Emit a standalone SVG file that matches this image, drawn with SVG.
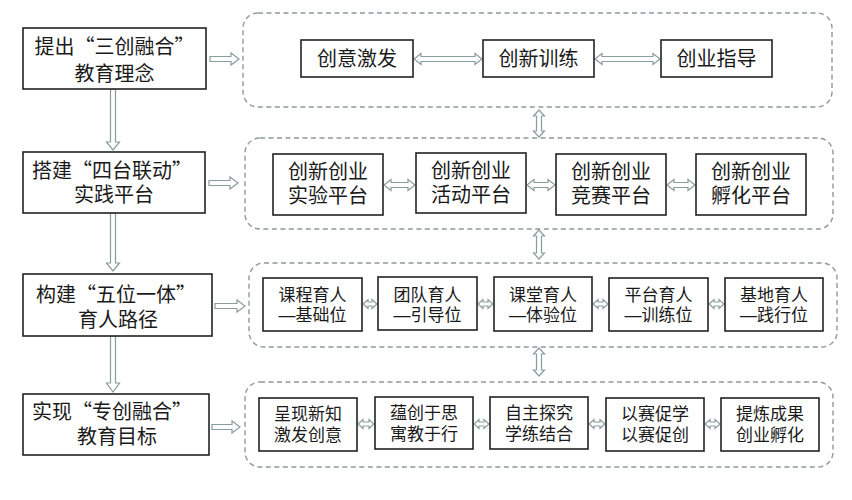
<svg xmlns="http://www.w3.org/2000/svg" width="852" height="500" viewBox="0 0 852 500" lang="zh-CN">
<style>
text{font-family:"Liberation Sans","Noto Sans CJK SC",sans-serif;fill:#1a1a1a;text-anchor:middle}
.q{font-family:"Noto Sans CJK SC",sans-serif}
.t20{font-size:20px}
.t17{font-size:17px}
.box{fill:#fff;stroke:#222;stroke-width:1.6}
.cont{fill:none;stroke:#8e9a9a;stroke-width:1.4;stroke-dasharray:5 3.5}
.arr{fill:#fff;stroke:#8a9d9d;stroke-width:1.2;stroke-linejoin:miter}
</style>
<rect width="852" height="500" fill="#fff"/>
<g id="containers">
<rect id="c1" class="cont" x="243" y="13" width="589" height="94" rx="15"/>
<rect id="c2" class="cont" x="245" y="138" width="588" height="91" rx="15"/>
<rect id="c3" class="cont" x="249" y="263" width="588" height="84" rx="15"/>
<rect id="c4" class="cont" x="245" y="382" width="588" height="85" rx="15"/>
</g>
<g id="connectors">
<path class="arr" d="M110.5 89 L115.5 89 L115.5 142 L119.5 142 L113 150 L106.5 142 L110.5 142 Z"/>
<path class="arr" d="M110.5 213 L115.5 213 L115.5 263 L119.5 263 L113 271 L106.5 263 L110.5 263 Z"/>
<path class="arr" d="M110.5 336 L115.5 336 L115.5 383 L119.5 383 L113 392 L106.5 383 L110.5 383 Z"/>
<path class="arr" d="M210 56.5 L231 56.5 L231 53 L239 59 L231 65 L231 61.5 L210 61.5 Z"/>
<path class="arr" d="M209 180.5 L230 180.5 L230 177 L238 183 L230 189 L230 185.5 L209 185.5 Z"/>
<path class="arr" d="M215 303.5 L237 303.5 L237 300 L245 306 L237 312 L237 308.5 L215 308.5 Z"/>
<path class="arr" d="M212 424.5 L232 424.5 L232 421 L240 427 L232 433 L232 429.5 L212 429.5 Z"/>
<path class="arr" d="M539 110 L544.5 116 L541.5 116 L541.5 131 L544.5 131 L539 137 L533.5 131 L536.5 131 L536.5 116 L533.5 116 Z"/>
<path class="arr" d="M539 230 L544.5 236 L541.5 236 L541.5 253 L544.5 253 L539 259 L533.5 253 L536.5 253 L536.5 236 L533.5 236 Z"/>
<path class="arr" d="M539 348 L544.5 354 L541.5 354 L541.5 370 L544.5 370 L539 376 L533.5 370 L536.5 370 L536.5 354 L533.5 354 Z"/>
<path class="arr" d="M414 59 L421 53.5 L421 56.5 L475 56.5 L475 53.5 L482 59 L475 64.5 L475 61.5 L421 61.5 L421 64.5 Z"/>
<path class="arr" d="M595 59 L602 53.5 L602 56.5 L653 56.5 L653 53.5 L660 59 L653 64.5 L653 61.5 L602 61.5 L602 64.5 Z"/>
<path class="arr" d="M384 185 L391 179.5 L391 182.5 L408 182.5 L408 179.5 L415 185 L408 190.5 L408 187.5 L391 187.5 L391 190.5 Z"/>
<path class="arr" d="M527 185 L534 179.5 L534 182.5 L548 182.5 L548 179.5 L555 185 L548 190.5 L548 187.5 L534 187.5 L534 190.5 Z"/>
<path class="arr" d="M667 185 L674 179.5 L674 182.5 L688 182.5 L688 179.5 L695 185 L688 190.5 L688 187.5 L674 187.5 L674 190.5 Z"/>
<path class="arr" d="M363 304 L368 299.5 L368 302 L372 302 L372 299.5 L377 304 L372 308.5 L372 306 L368 306 L368 308.5 Z"/>
<path class="arr" d="M478 304 L483 299.5 L483 302 L488 302 L488 299.5 L493 304 L488 308.5 L488 306 L483 306 L483 308.5 Z"/>
<path class="arr" d="M593 304 L598 299.5 L598 302 L603 302 L603 299.5 L608 304 L603 308.5 L603 306 L598 306 L598 308.5 Z"/>
<path class="arr" d="M709 304 L714 299.5 L714 302 L719 302 L719 299.5 L724 304 L719 308.5 L719 306 L714 306 L714 308.5 Z"/>
<path class="arr" d="M358 424 L363 419.5 L363 422 L369 422 L369 419.5 L374 424 L369 428.5 L369 426 L363 426 L363 428.5 Z"/>
<path class="arr" d="M474 424 L479 419.5 L479 422 L484 422 L484 419.5 L489 424 L484 428.5 L484 426 L479 426 L479 428.5 Z"/>
<path class="arr" d="M589 424 L594 419.5 L594 422 L600 422 L600 419.5 L605 424 L600 428.5 L600 426 L594 426 L594 428.5 Z"/>
<path class="arr" d="M705 424 L710 419.5 L710 422 L715 422 L715 419.5 L720 424 L715 428.5 L715 426 L710 426 L710 428.5 Z"/>
</g>
<g id="L1"><rect class="box" x="23" y="28" width="183" height="61"/><text class="t20" x="114.5" y="54">提出<tspan class="q">“</tspan>三创融合<tspan class="q">”</tspan></text><text class="t20" x="114.5" y="81">教育理念</text></g>
<g id="L2"><rect class="box" x="23" y="152" width="182" height="61"/><text class="t20" x="112" y="178">搭建<tspan class="q">“</tspan>四台联动<tspan class="q">”</tspan></text><text class="t20" x="114" y="202">实践平台</text></g>
<g id="L3"><rect class="box" x="23" y="274" width="189" height="62"/><text class="t20" x="116" y="302">构建<tspan class="q">“</tspan>五位一体<tspan class="q">”</tspan></text><text class="t20" x="118" y="327">育人路径</text></g>
<g id="L4"><rect class="box" x="23" y="394" width="186" height="61"/><text class="t20" x="112" y="419">实现<tspan class="q">“</tspan>专创融合<tspan class="q">”</tspan></text><text class="t20" x="117" y="444">教育目标</text></g>
<g id="r1a"><rect class="box" x="301" y="40" width="112" height="37"/><text class="t20" x="357" y="66">创意激发</text></g>
<g id="r1b"><rect class="box" x="483" y="40" width="111" height="37"/><text class="t20" x="538.5" y="66">创新训练</text></g>
<g id="r1c"><rect class="box" x="661" y="40" width="111" height="37"/><text class="t20" x="716.5" y="66">创业指导</text></g>
<g id="r2a"><rect class="box" x="273" y="154" width="110" height="61"/><text class="t20" x="328" y="179">创新创业</text><text class="t20" x="328" y="203">实验平台</text></g>
<g id="r2b"><rect class="box" x="416" y="153" width="110" height="60"/><text class="t20" x="471" y="178">创新创业</text><text class="t20" x="471" y="202">活动平台</text></g>
<g id="r2c"><rect class="box" x="556" y="154" width="110" height="61"/><text class="t20" x="611" y="179">创新创业</text><text class="t20" x="611" y="203">竞赛平台</text></g>
<g id="r2d"><rect class="box" x="696" y="154" width="110" height="61"/><text class="t20" x="751" y="179">创新创业</text><text class="t20" x="751" y="203">孵化平台</text></g>
<g id="r3a"><rect class="box" x="263" y="278" width="99" height="53"/><text class="t17" x="312.5" y="301">课程育人</text><text class="t17" x="312.5" y="321">—基础位</text></g>
<g id="r3b"><rect class="box" x="378" y="277" width="99" height="53"/><text class="t17" x="427.5" y="301">团队育人</text><text class="t17" x="427.5" y="321">—引导位</text></g>
<g id="r3c"><rect class="box" x="494" y="277" width="98" height="54"/><text class="t17" x="543" y="301">课堂育人</text><text class="t17" x="543" y="321">—体验位</text></g>
<g id="r3d"><rect class="box" x="609" y="278" width="99" height="53"/><text class="t17" x="658.5" y="301">平台育人</text><text class="t17" x="658.5" y="321">—训练位</text></g>
<g id="r3e"><rect class="box" x="725" y="278" width="98" height="53"/><text class="t17" x="774" y="301">基地育人</text><text class="t17" x="774" y="321">—践行位</text></g>
<g id="r4a"><rect class="box" x="259" y="398" width="98" height="53"/><text class="t17" x="308" y="420">呈现新知</text><text class="t17" x="308" y="441">激发创意</text></g>
<g id="r4b"><rect class="box" x="375" y="397" width="98" height="52"/><text class="t17" x="424" y="419">蕴创于思</text><text class="t17" x="424" y="440">寓教于行</text></g>
<g id="r4c"><rect class="box" x="490" y="397" width="98" height="52"/><text class="t17" x="539" y="419">自主探究</text><text class="t17" x="539" y="440">学练结合</text></g>
<g id="r4d"><rect class="box" x="606" y="398" width="98" height="53"/><text class="t17" x="655" y="420">以赛促学</text><text class="t17" x="655" y="441">以赛促创</text></g>
<g id="r4e"><rect class="box" x="721" y="398" width="98" height="53"/><text class="t17" x="770" y="420">提炼成果</text><text class="t17" x="770" y="441">创业孵化</text></g>
</svg>
